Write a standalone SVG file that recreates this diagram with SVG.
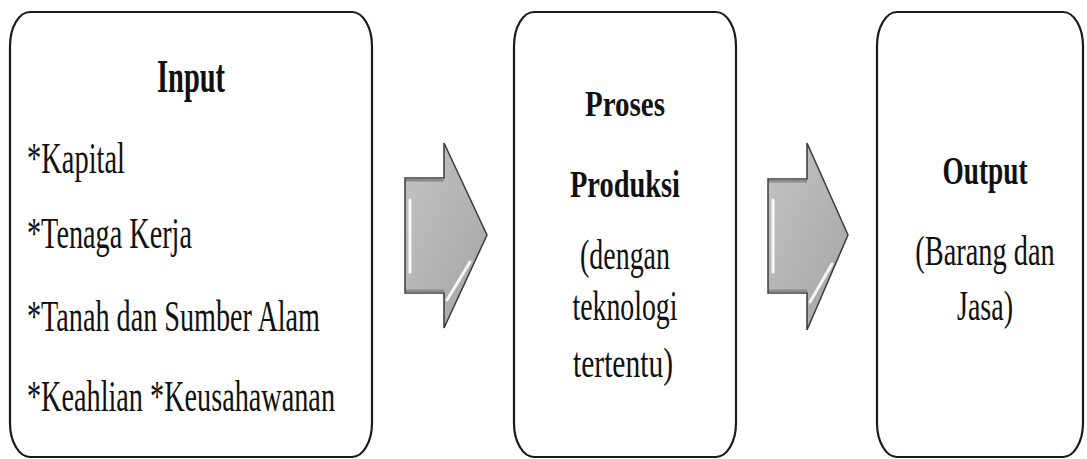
<svg xmlns="http://www.w3.org/2000/svg" width="1087" height="459" viewBox="0 0 1087 459">
<style>
.box{fill:#ffffff;stroke:#1a1a1a;stroke-width:2.2}
.t{font-family:"Liberation Serif","Times New Roman",serif;fill:#111}
.b{font-weight:bold}
.arr{fill:url(#ag);stroke:#3a3a3a;stroke-width:1.5;stroke-linejoin:miter}
.hl{fill:none;stroke:#ffffff;stroke-width:3;stroke-linecap:round;opacity:0.9}
.sh{fill:none;stroke:#8a8a8a;stroke-width:3}
</style>
<defs>
<linearGradient id="ag" x1="0" y1="0" x2="1" y2="1">
<stop offset="0" stop-color="#c4c4c4"/>
<stop offset="1" stop-color="#a4a4a4"/>
</linearGradient>
</defs>
<rect width="1087" height="459" fill="#ffffff"/>
<g id="node-input">
<rect class="box" x="10" y="12" width="362" height="445" rx="20" ry="34"/>
<text class="t b" x="191" y="92" font-size="46" text-anchor="middle" textLength="68" lengthAdjust="spacingAndGlyphs">Input</text>
<text class="t" x="27" y="173" font-size="44" textLength="98" lengthAdjust="spacingAndGlyphs">*Kapital</text>
<text class="t" x="27" y="248" font-size="44" textLength="165" lengthAdjust="spacingAndGlyphs">*Tenaga Kerja</text>
<text class="t" x="27" y="331" font-size="44" textLength="293" lengthAdjust="spacingAndGlyphs">*Tanah dan Sumber Alam</text>
<text class="t" x="27" y="411" font-size="44" textLength="308" lengthAdjust="spacingAndGlyphs">*Keahlian *Keusahawanan</text>
</g>
<g id="node-proses">
<rect class="box" x="514" y="12" width="222" height="445" rx="20" ry="34"/>
<text class="t b" x="625" y="116" font-size="36" text-anchor="middle" textLength="80" lengthAdjust="spacingAndGlyphs">Proses</text>
<text class="t b" x="625" y="197" font-size="38" text-anchor="middle" textLength="110" lengthAdjust="spacingAndGlyphs">Produksi</text>
<text class="t" x="625" y="269" font-size="42" text-anchor="middle" textLength="90" lengthAdjust="spacingAndGlyphs">(dengan</text>
<text class="t" x="625" y="320" font-size="42" text-anchor="middle" textLength="105" lengthAdjust="spacingAndGlyphs">teknologi</text>
<text class="t" x="623" y="377" font-size="42" text-anchor="middle" textLength="100" lengthAdjust="spacingAndGlyphs">tertentu)</text>
</g>
<g id="node-output">
<rect class="box" x="877" y="12" width="206" height="445" rx="20" ry="34"/>
<text class="t b" x="985" y="184" font-size="40" text-anchor="middle" textLength="85" lengthAdjust="spacingAndGlyphs">Output</text>
<text class="t" transform="translate(985,265) scale(0.675,1)" x="0" y="0" font-size="42" text-anchor="middle">(Barang dan</text>
<text class="t" x="985" y="320" font-size="42" text-anchor="middle" textLength="56" lengthAdjust="spacingAndGlyphs">Jasa)</text>
</g>
<g id="connectors">
<g id="arrow-1">
<polygon class="arr" points="405,178 444,178 444,143 487,235 444,328 444,293 405,293"/>
<path class="sh" d="M406,180 L444,180 M406,291 L444,291"/>
<path class="hl" d="M410,200 L410,272"/>
<path class="hl" d="M447,300 L470,262"/>
</g>
<g id="arrow-2">
<polygon class="arr" points="768,179 807,179 807,143 848,235 807,330 807,293 768,293"/>
<path class="sh" d="M769,181 L807,181 M769,291 L807,291"/>
<path class="hl" d="M773,200 L773,272"/>
<path class="hl" d="M810,302 L832,264"/>
</g>
</g>
</svg>
